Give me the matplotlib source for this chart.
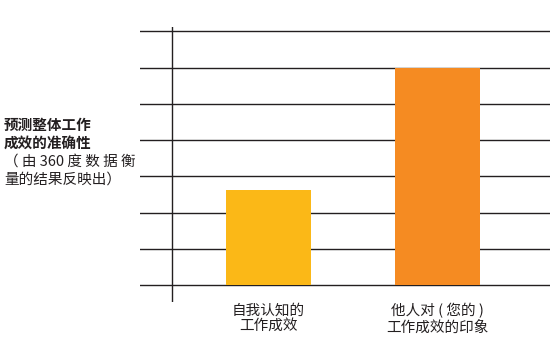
import matplotlib
matplotlib.use("Agg")
from matplotlib import pyplot as plt

plt.rcParams['font.family'] = ['Noto Sans CJK SC', 'DejaVu Sans']

# data
categories = ["自我认知的\n工作成效", "他人对 ( 您的 )\n工作成效的印象"]
values = [2.62, 6.0]
colors = ['#FBB817', '#F58B22']
grid_levels = [0, 1, 2, 3, 4, 5, 6, 7]

W, H = 550, 356
fig = plt.figure(figsize=(W / 100, H / 100), dpi=100)
# axes box in pixels: x 140..550, y 27..302
ax = fig.add_axes([140 / W, 1 - 302 / H, 410 / W, 275 / H])
ax.set_xlim(-0.760, 1.666)
ax.set_ylim(-0.46, 7.12)

line_col = '#231F20'
for g in grid_levels:
    ax.axhline(g, color=line_col, lw=1.0, zorder=1)
ax.axvline(-0.569, color=line_col, lw=1.0, zorder=1)

x = [0, 1]
ax.bar(x, values, width=0.503, color=colors, zorder=2)

for s in ax.spines.values():
    s.set_visible(False)
ax.set_xticks([])
ax.set_yticks([])

# category labels under the bars
for xi, lab in zip(x, categories):
    ax.annotate(lab, xy=(xi, 0), xycoords=('data', 'axes fraction'),
                xytext=(0, -1), textcoords='offset points',
                ha='center', va='top', fontsize=10.5, color='#231F20',
                linespacing=1.15)

# left-side description
left_lines = [
    ("预测整体工作", 'bold', 125),
    ("成效的准确性", 'bold', 143),
    ("（ 由 360 度 数 据 衡", 'normal', 162),
    ("量的结果反映出）", 'normal', 180),
]
for txt, wt, yc in left_lines:
    fig.text(4 / W, 1 - yc / H, txt, ha='left', va='center',
             fontsize=10.5, fontweight=wt, color='#231F20')

plt.savefig('out.png', dpi=100)
